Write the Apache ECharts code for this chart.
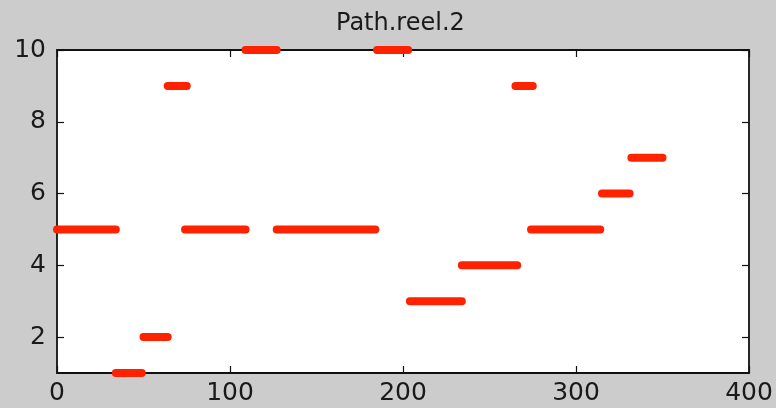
<!DOCTYPE html>
<html>
<head>
<meta charset="utf-8">
<script src="https://cdn.jsdelivr.net/npm/echarts@6/dist/echarts.min.js"></script>
<style>html,body{margin:0;padding:0;background:#cccccc;}#c{width:776px;height:408px;}</style>
</head>
<body>
<div id="c"></div>
<script>
const titleText = 'Path.reel.2';
const xTicks = [0, 100, 200, 300, 400];
const yTicks = [2, 4, 6, 8, 10];
const segStart = [0, 34, 50, 64, 74, 109, 127, 185, 204, 234, 265, 274, 315, 332];
const segEnd   = [34, 49, 64, 75, 109, 127, 184, 203, 234, 266, 275, 314, 331, 350];
const segValue = [5, 1, 2, 9, 5, 10, 5, 10, 3, 4, 9, 5, 6, 7];

const data = [];
for (let i = 0; i < segStart.length; i++) {
  data.push([segStart[i], segValue[i]]);
  data.push([segEnd[i], segValue[i]]);
  data.push('-');
}

const font = '"DejaVu Sans", "Liberation Sans", Arial, sans-serif';
const axisCommon = {
  axisLine: { show: true, onZero: false, lineStyle: { color: '#111', width: 1.8 } },
  axisTick: { show: true, inside: true, length: 7, lineStyle: { color: '#111', width: 1.2 } },
  splitLine: { show: false }
};

const chart = echarts.init(document.getElementById('c'));
chart.setOption({
  animation: false,
  backgroundColor: '#cccccc',
  title: {
    text: titleText, left: 331, top: 7,
    textStyle: { fontFamily: font, fontSize: 24, fontWeight: 'normal', color: '#1a1a1a' }
  },
  grid: { left: 57, right: 27, top: 50, bottom: 35, show: true, backgroundColor: '#ffffff', borderWidth: 0 },
  xAxis: [
    Object.assign({}, axisCommon, {
      type: 'value', min: 0, max: 400, position: 'bottom',
      axisTick: Object.assign({}, axisCommon.axisTick, { customValues: xTicks }),
      axisLabel: { customValues: xTicks, fontFamily: font, fontSize: 25, color: '#1a1a1a', margin: 8 }
    }),
    Object.assign({}, axisCommon, {
      type: 'value', min: 0, max: 400, position: 'top',
      axisTick: Object.assign({}, axisCommon.axisTick, { customValues: xTicks }),
      axisLabel: { show: false }
    })
  ],
  yAxis: [
    Object.assign({}, axisCommon, {
      type: 'value', min: 1, max: 10, position: 'left',
      axisTick: Object.assign({}, axisCommon.axisTick, { customValues: yTicks }),
      axisLabel: { customValues: yTicks, fontFamily: font, fontSize: 25, color: '#1a1a1a', margin: 11 }
    }),
    Object.assign({}, axisCommon, {
      type: 'value', min: 1, max: 10, position: 'right',
      axisTick: Object.assign({}, axisCommon.axisTick, { customValues: yTicks }),
      axisLabel: { show: false }
    })
  ],
  series: [{
    type: 'line', xAxisIndex: 0, yAxisIndex: 0,
    data: data, symbol: 'none', clip: false, connectNulls: false, z: 5,
    lineStyle: { color: '#ff2200', width: 8, cap: 'round' }
  }]
});
</script>
</body>
</html>
